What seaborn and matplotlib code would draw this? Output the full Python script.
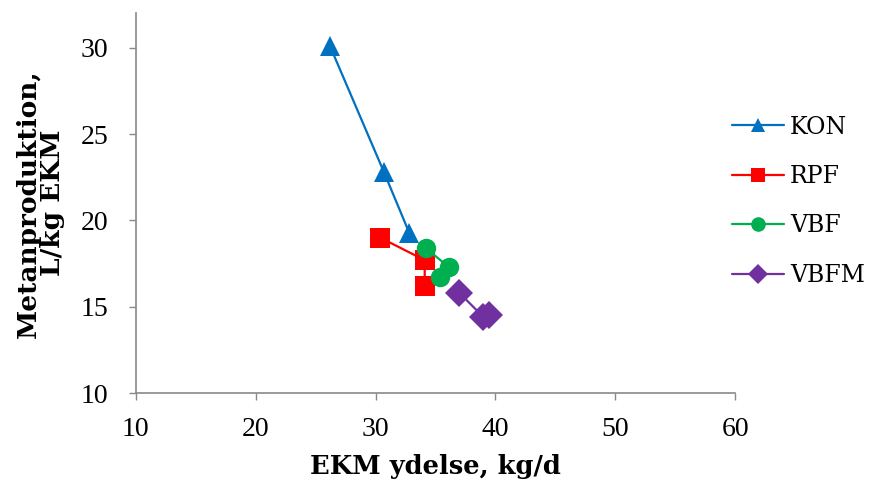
import pandas as pd
import matplotlib
matplotlib.use('Agg')
import matplotlib.pyplot as plt
import seaborn as sns

# Data
groups = ['KON', 'RPF', 'VBF', 'VBFM']
kon_x = [26.2, 30.7, 32.8]
kon_y = [30.1, 22.8, 19.3]
rpf_x = [30.4, 34.1, 34.1]
rpf_y = [19.0, 17.7, 16.2]
vbf_x = [34.2, 36.1, 35.4]
vbf_y = [18.4, 17.3, 16.7]
vbfm_x = [37.0, 39.0, 39.5]
vbfm_y = [15.8, 14.4, 14.5]

colors = {'KON': '#0070C0', 'RPF': '#FF0000', 'VBF': '#00B050', 'VBFM': '#7030A0'}
markers = {'KON': '^', 'RPF': 's', 'VBF': 'o', 'VBFM': 'D'}

df = pd.DataFrame({
    'group': ['KON'] * 3 + ['RPF'] * 3 + ['VBF'] * 3 + ['VBFM'] * 3,
    'x': kon_x + rpf_x + vbf_x + vbfm_x,
    'y': kon_y + rpf_y + vbf_y + vbfm_y,
})

sns.set_style('white')
plt.rcParams['font.family'] = ['DejaVu Serif']
plt.rcParams['text.color'] = 'black'

fig = plt.figure(figsize=(8.71, 4.79), dpi=100)
ax = fig.add_axes([0.156, 0.1795, 0.688, 0.7925])

sns.lineplot(data=df, x='x', y='y', hue='group', style='group',
             hue_order=groups, style_order=groups, palette=colors, markers=markers,
             dashes=False, sort=False, estimator=None, linewidth=1.6,
             markersize=14, markeredgewidth=0, ax=ax)

ax.set_xlim(10, 60)
ax.set_ylim(10, 32)
ax.set_xticks([10, 20, 30, 40, 50, 60])
ax.set_yticks([10, 15, 20, 25, 30])
ax.tick_params(axis='both', length=5, width=1, color='#898989',
               labelcolor='black', direction='out', bottom=True, left=True)
ax.tick_params(axis='x', pad=12)
ax.tick_params(axis='y', pad=15)
for lbl in ax.get_xticklabels() + ax.get_yticklabels():
    lbl.set_family(['Liberation Serif'])
    lbl.set_fontsize(20)
for s in ['top', 'right']:
    ax.spines[s].set_visible(False)
for s in ['left', 'bottom']:
    ax.spines[s].set_color('#898989')
    ax.spines[s].set_linewidth(1.2)

ax.set_xlabel('EKM ydelse, kg/d', fontsize=18.5, fontweight='bold',
              family=['DejaVu Serif'], color='black', labelpad=9)
ax.set_ylabel('Metanproduktion,\nL/kg EKM', fontsize=19, fontweight='bold',
              family=['DejaVu Serif'], color='black', labelpad=11, linespacing=0.95)

handles, labels = ax.get_legend_handles_labels()
ax.legend(handles, labels, loc='center left', bbox_to_anchor=(0.8404, 0.580),
          bbox_transform=fig.transFigure, frameon=False,
          prop={'family': 'DejaVu Serif', 'size': 17},
          labelspacing=1.12, handlelength=2.2, handletextpad=0.25,
          borderpad=0, borderaxespad=0, markerscale=0.75)

fig.savefig('out.png', dpi=100)
